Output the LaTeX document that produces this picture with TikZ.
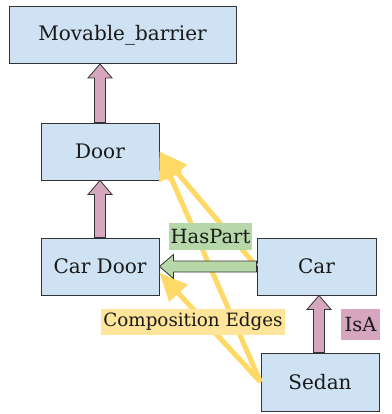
\documentclass[tikz,border=0pt]{standalone}
\usepackage{fontspec}
\setmainfont{DejaVu Serif}
\usetikzlibrary{arrows.meta,calc}

\definecolor{boxblue}{HTML}{CFE2F3}
\definecolor{isapink}{HTML}{D5A6BD}
\definecolor{partgreen}{HTML}{B6D7A8}
\definecolor{compyellow}{HTML}{FFD966}
\definecolor{lblyellow}{HTML}{FFE599}
\definecolor{edgegray}{HTML}{333333}

\tikzset{
  concept/.style={draw=edgegray, line width=0.9pt, fill=boxblue, minimum height=57pt,
    inner sep=0pt, font=\fontsize{20}{24}\selectfont, text=black!90},
  isaarrow/.style={draw=edgegray, line width=0.8pt, fill=isapink},
  partarrow/.style={draw=edgegray, line width=0.8pt, fill=partgreen},
  compedge/.style={draw=compyellow, line width=5pt, -{Triangle[length=28pt,width=24pt]}},
  edgelabel/.style={inner xsep=2pt, inner ysep=0pt, minimum height=27pt,
    font=\fontsize{19.5}{24}\selectfont, text=black!90},
}

% block arrow: style, from, to
\newcommand{\fatarrow}[3]{%
  \path ($(#3)!14pt!(#2)$) coordinate (headbase);
  \draw[#1] ($(#2)!5.5pt!90:(#3)$) -- ($(headbase)!5.5pt!90:(#3)$)
    -- ($(headbase)!12pt!90:(#3)$) -- (#3) -- ($(headbase)!12pt!-90:(#3)$)
    -- ($(headbase)!5.5pt!-90:(#3)$) -- ($(#2)!5.5pt!-90:(#3)$) -- cycle;}

\begin{document}
\begin{tikzpicture}[x=1pt,y=-1pt]

\useasboundingbox (0,0) rectangle (391,414);

% Concepts
\node[concept, minimum width=227pt] (barrier) at (122.5,35) {Movable\_barrier};
\node[concept, minimum width=118pt] (door) at (100,151.5) {Door};
\node[concept, minimum width=118pt] (cardoor) at (100,266.5) {Car Door};
\node[concept, minimum width=119pt] (car) at (316.5,266.5) {Car};
\node[concept, minimum width=118pt, minimum height=58pt] (sedan) at (320,382) {Sedan};

% Composition edges
\draw[compedge] (car.west) -- (door.east);
\draw[compedge] (sedan.west) -- (door.east);
\draw[compedge] (sedan.west) -- (cardoor.-6);

% IsA and HasPart edges
\coordinate (barriertip) at (door.north |- barrier.south);
\coordinate (cartip) at (319,0 |- car.south);
\coordinate (sedanbase) at (cartip |- sedan.north);
\fatarrow{isaarrow}{door.north}{barriertip}
\fatarrow{isaarrow}{cardoor.north}{door.south}
\fatarrow{isaarrow}{sedanbase}{cartip}
\fatarrow{partarrow}{car.west}{cardoor.east}

% Labels
\node[edgelabel, fill=partgreen, minimum width=81pt] (haspart) at (210.5,236.5) {HasPart};
\node[edgelabel, fill=lblyellow, minimum height=26pt, minimum width=180pt,
  font=\fontsize{18.3}{22}\selectfont] (complbl) at (193,322) {Composition Edges};
\node[edgelabel, fill=isapink, minimum height=31pt, minimum width=39pt] (isalbl) at (360.5,324.5) {IsA};

\end{tikzpicture}
\end{document}
